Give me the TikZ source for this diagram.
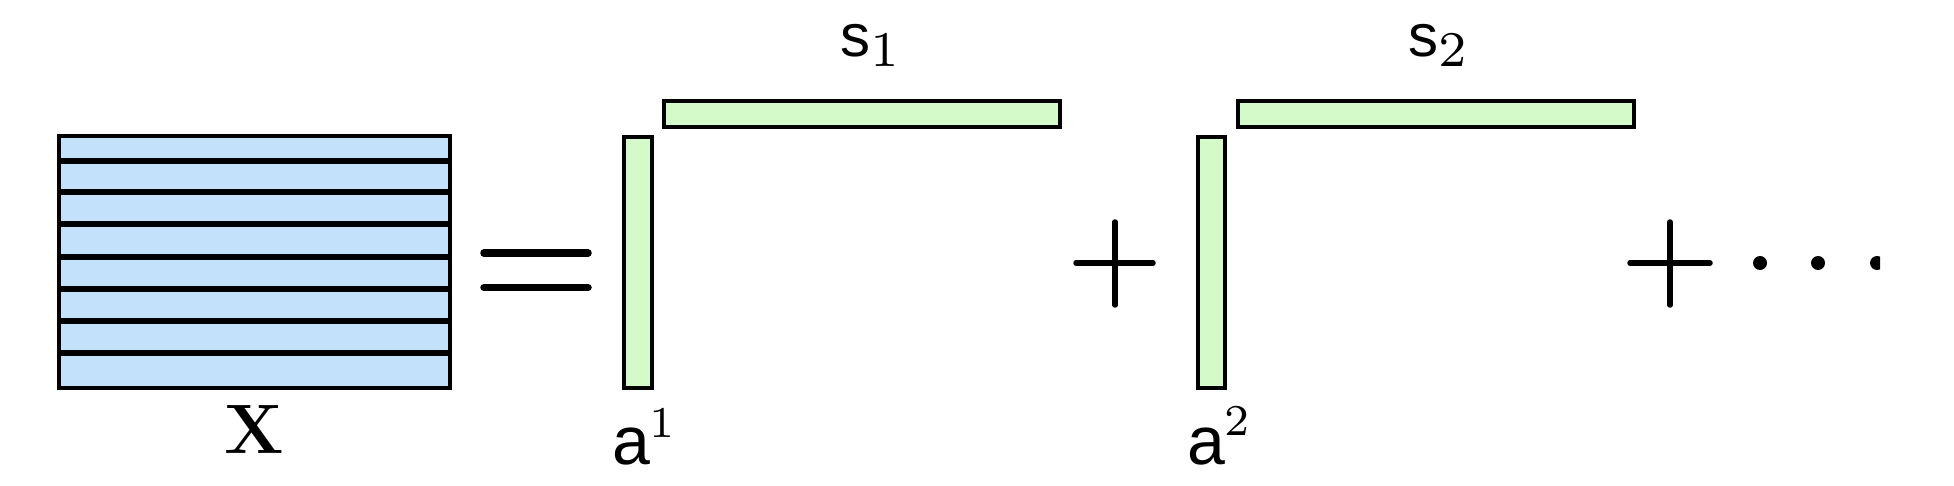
\documentclass[tikz,border=0pt]{standalone}
\usepackage{fontspec}
\newfontfamily\lab{Liberation Sans}
\newfontfamily\digits{lmroman7-regular}[Extension=.otf]
\definecolor{xblue}{RGB}{196,225,251}
\definecolor{vgreen}{RGB}{212,250,202}
\begin{document}
\begin{tikzpicture}[x=1pt,y=-1pt,
  bar/.style={draw=black,line width=4.2pt,fill=vgreen},
  opline/.style={line width=5.5pt,line cap=round},
  txt/.style={inner sep=0pt,outer sep=0pt,anchor=base west}]
\useasboundingbox (0,0) rectangle (1954,486);
% matrix X
\fill[xblue] (59,136) rectangle (450,388);
\foreach \yy in {161,192,224,257,289,321,353} \draw[line width=6pt] (59,\yy) -- (450,\yy);
\draw[line width=4.4pt] (59,136) rectangle (450,388);
\node[inner sep=0pt,anchor=base] (xl) at (254,453) {\fontsize{70}{70}\selectfont\bfseries X};
% equals
\draw[line width=7.5pt,line cap=round] (484,253) -- (588,253) (484,287.5) -- (588,287.5);
% first term
\draw[bar] (624,137) rectangle (652,388);
\draw[bar] (664,101) rectangle (1060,127);
\node[txt] (s1) at (840,57) {{\lab\fontsize{60}{60}\selectfont s}\raisebox{-10pt}{\digits\fontsize{50}{50}\selectfont 1}};
\node[txt] (a1) at (612,464) {{\lab\fontsize{68}{68}\selectfont a}\raisebox{27pt}{\digits\fontsize{44}{44}\selectfont 1}};
% plus
\draw[opline] (1076,263) -- (1153,263) (1115,222) -- (1115,305);
% second term
\draw[bar] (1198,137) rectangle (1225,388);
\draw[bar] (1238,101) rectangle (1634,127);
\node[txt] (s2) at (1408,57) {{\lab\fontsize{60}{60}\selectfont s}\raisebox{-10pt}{\digits\fontsize{50}{50}\selectfont 2}};
\node[txt] (a2) at (1187,464) {{\lab\fontsize{68}{68}\selectfont a}\raisebox{29pt}{\digits\fontsize{44}{44}\selectfont 2}};
% plus and dots
\draw[opline] (1630,263) -- (1710,263) (1670,222) -- (1670,305);
\fill (1760,263) circle (7) (1818,263) circle (7);
\begin{scope}
\clip (1860,240) rectangle (1880,290);
\fill (1877,263) circle (7);
\end{scope}
\end{tikzpicture}
\end{document}
